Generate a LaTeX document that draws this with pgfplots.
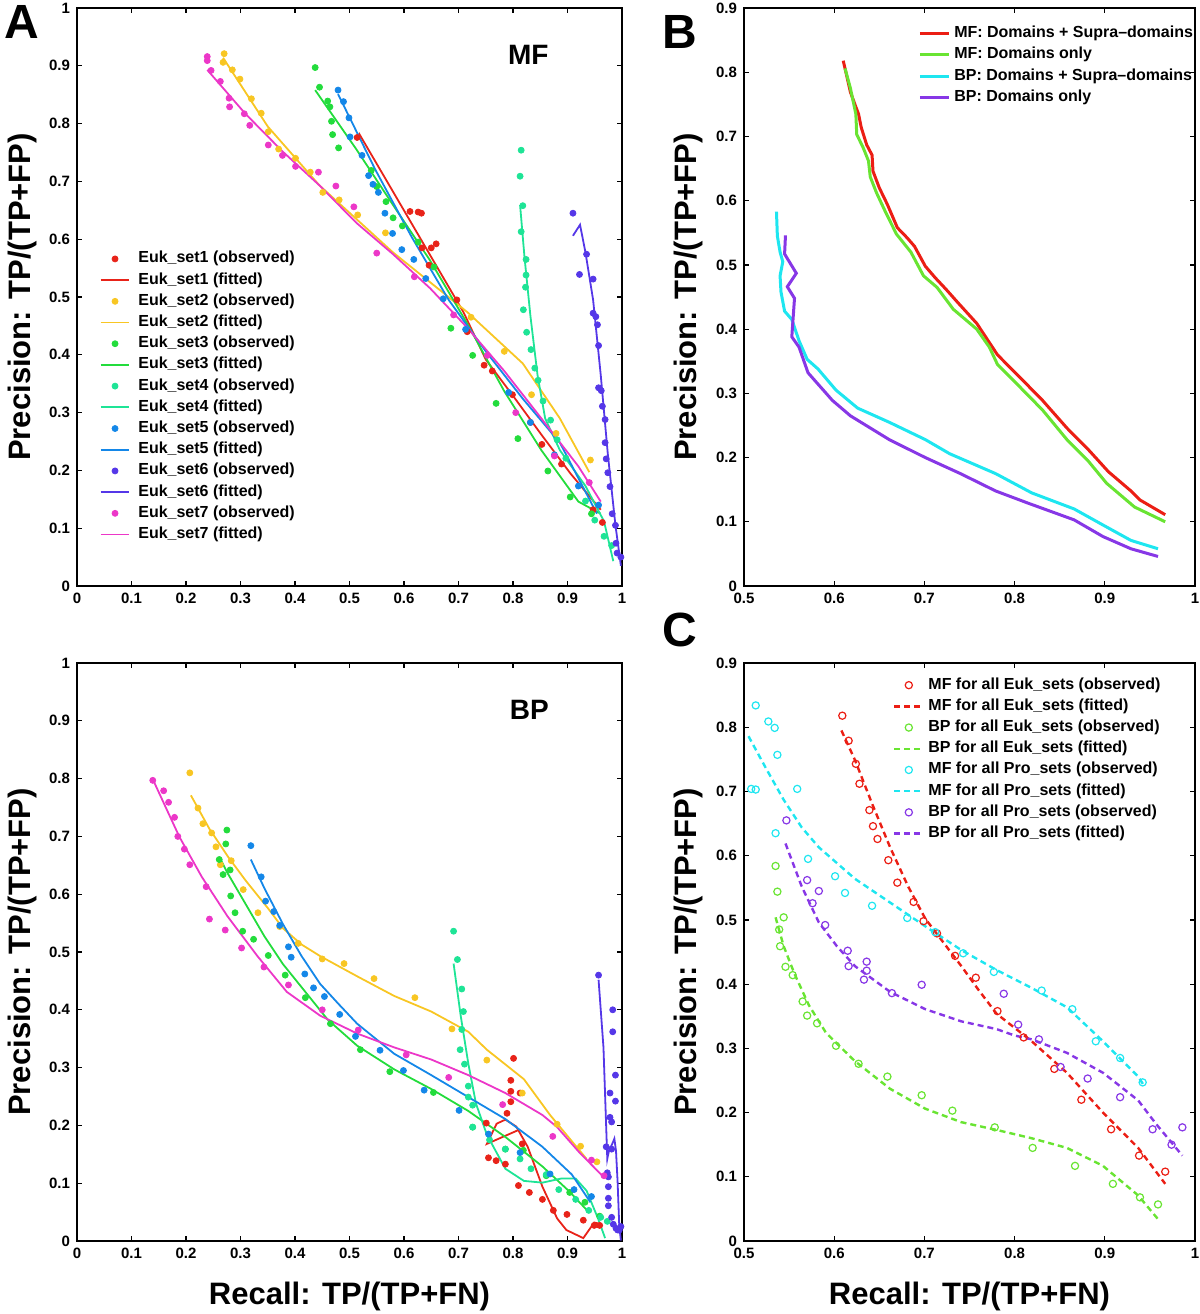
\documentclass[border=0pt]{standalone}
\usepackage{pgfplots}
\pgfplotsset{compat=1.18}
\usepackage{fontspec}
\setmainfont{Liberation Sans}
\definecolor{sOne}{RGB}{232,35,25}
\definecolor{sTwo}{RGB}{248,198,35}
\definecolor{sThree}{RGB}{35,220,60}
\definecolor{sFour}{RGB}{30,228,150}
\definecolor{sFive}{RGB}{20,135,232}
\definecolor{sSix}{RGB}{85,55,232}
\definecolor{sSeven}{RGB}{236,55,200}
\definecolor{bRed}{RGB}{235,30,20}
\definecolor{bGreen}{RGB}{105,228,50}
\definecolor{bCyan}{RGB}{30,230,240}
\definecolor{bPurple}{RGB}{135,55,230}
\pgfplotsset{
  matax/.style={
    scale only axis, axis line style={line width=0.7pt},
    tick style={line width=0.6pt,black}, major tick length=2.5pt, tick align=inside,
    ticklabel style={font=\fontsize{7.5}{9}\selectfont\bfseries},
    /pgf/number format/assume math mode=true,
    legend cell align=left,
    legend image code/.code={\draw[mark repeat=2,mark phase=2,##1] plot coordinates {(0pt,0pt) (7.2pt,0pt) (14.4pt,0pt)};},
  },
  obsA/.style={only marks, mark=*, mark size=1.5pt, color=#1},
  fitA/.style={no marks, line width=0.9pt, color=#1},
  lineB/.style={no marks, line width=1.5pt, color=#1},
  obsC/.style={only marks, mark=o, mark size=1.8pt, mark options={line width=0.6pt}, color=#1},
  fitC/.style={no marks, line width=1.2pt, dash pattern=on 3pt off 2pt, color=#1},
  legfont/.style={font=\fontsize{8}{9.6}\selectfont\bfseries},
}
\begin{document}
\begin{tikzpicture}
\useasboundingbox (0pt,0pt) rectangle (600pt,-657pt);
% ---------------- Panel A (MF)
\begin{axis}[matax, at={(38.5pt,-293pt)}, anchor=south west, width=272.5pt, height=289pt,
  xmin=0, xmax=1, ymin=0, ymax=1,
  xtick={0,0.1,0.2,0.3,0.4,0.5,0.6,0.7,0.8,0.9,1},
  ytick={0,0.1,0.2,0.3,0.4,0.5,0.6,0.7,0.8,0.9,1},
  legend style={at={(axis cs:0.041,0.3275)}, anchor=west, draw=none, fill=none, inner sep=0pt,
    legfont, row sep=2.6pt, column sep=4pt, nodes={inner sep=0pt, text height=6pt, text depth=2pt}}]
\addplot[obsA=sOne] coordinates {(0.514,0.776)(0.611,0.648)(0.626,0.647)(0.632,0.645)(0.633,0.585)(0.650,0.585)(0.659,0.592)(0.646,0.555)(0.697,0.495)(0.716,0.440)(0.747,0.382)(0.762,0.372)(0.799,0.331)(0.832,0.283)(0.853,0.245)(0.889,0.211)(0.947,0.132)(0.964,0.110)};
\addlegendentry{Euk\_set1 (observed)}
\addplot[fitA=sOne] coordinates {(0.512,0.772)(0.518,0.782)(0.709,0.474)(0.750,0.392)(0.804,0.324)(0.852,0.262)(0.906,0.194)(0.961,0.132)};
\addlegendentry{Euk\_set1 (fitted)}
\addplot[obsA=sTwo] coordinates {(0.270,0.921)(0.268,0.906)(0.285,0.893)(0.299,0.877)(0.320,0.843)(0.338,0.818)(0.351,0.786)(0.370,0.756)(0.401,0.740)(0.428,0.716)(0.451,0.681)(0.481,0.668)(0.515,0.642)(0.566,0.611)(0.723,0.465)(0.784,0.406)(0.834,0.331)(0.879,0.264)(0.942,0.218)};
\addlegendentry{Euk\_set2 (observed)}
\addplot[fitA=sTwo] coordinates {(0.268,0.914)(0.350,0.795)(0.445,0.693)(0.580,0.577)(0.716,0.474)(0.818,0.385)(0.886,0.290)(0.940,0.197)};
\addlegendentry{Euk\_set2 (fitted)}
\addplot[obsA=sThree] coordinates {(0.437,0.897)(0.445,0.863)(0.460,0.839)(0.464,0.829)(0.467,0.804)(0.469,0.781)(0.480,0.758)(0.540,0.719)(0.550,0.691)(0.567,0.665)(0.580,0.637)(0.597,0.623)(0.626,0.595)(0.655,0.552)(0.686,0.446)(0.726,0.399)(0.769,0.316)(0.809,0.255)(0.864,0.199)(0.905,0.154)(0.944,0.125)};
\addlegendentry{Euk\_set3 (observed)}
\addplot[fitA=sThree] coordinates {(0.437,0.858)(0.513,0.755)(0.580,0.659)(0.648,0.563)(0.716,0.454)(0.784,0.337)(0.852,0.235)(0.920,0.146)(0.961,0.125)};
\addlegendentry{Euk\_set3 (fitted)}
\addplot[obsA=sFour] coordinates {(0.815,0.754)(0.813,0.709)(0.818,0.658)(0.815,0.613)(0.824,0.565)(0.824,0.538)(0.823,0.517)(0.819,0.478)(0.825,0.439)(0.833,0.409)(0.840,0.377)(0.846,0.356)(0.855,0.320)(0.869,0.287)(0.881,0.253)(0.897,0.221)(0.933,0.147)(0.950,0.114)(0.967,0.086)(0.981,0.070)};
\addlegendentry{Euk\_set4 (observed)}
\addplot[fitA=sFour] coordinates {(0.813,0.659)(0.821,0.570)(0.832,0.467)(0.845,0.365)(0.859,0.290)(0.886,0.235)(0.933,0.173)(0.967,0.112)(0.984,0.043)};
\addlegendentry{Euk\_set4 (fitted)}
\addplot[obsA=sFive] coordinates {(0.479,0.858)(0.489,0.838)(0.499,0.810)(0.501,0.777)(0.523,0.745)(0.535,0.710)(0.543,0.695)(0.553,0.681)(0.565,0.645)(0.579,0.610)(0.596,0.582)(0.618,0.565)(0.640,0.532)(0.672,0.497)(0.713,0.444)(0.792,0.335)(0.832,0.283)(0.876,0.227)(0.920,0.173)(0.957,0.140)};
\addlegendentry{Euk\_set5 (observed)}
\addplot[fitA=sFive] coordinates {(0.479,0.851)(0.547,0.721)(0.614,0.604)(0.682,0.495)(0.750,0.406)(0.818,0.324)(0.886,0.248)(0.954,0.125)};
\addlegendentry{Euk\_set5 (fitted)}
\addplot[obsA=sSix] coordinates {(0.910,0.645)(0.922,0.539)(0.935,0.574)(0.947,0.531)(0.947,0.472)(0.952,0.466)(0.955,0.452)(0.957,0.416)(0.957,0.343)(0.962,0.338)(0.964,0.311)(0.969,0.288)(0.969,0.248)(0.971,0.220)(0.974,0.196)(0.978,0.172)(0.982,0.125)(0.988,0.105)(0.989,0.074)(0.991,0.057)(0.998,0.050)};
\addlegendentry{Euk\_set6 (observed)}
\addplot[fitA=sSix] coordinates {(0.910,0.606)(0.923,0.625)(0.933,0.577)(0.947,0.495)(0.961,0.365)(0.974,0.228)(0.988,0.105)(0.998,0.035)};
\addlegendentry{Euk\_set6 (fitted)}
\addplot[obsA=sSeven] coordinates {(0.239,0.916)(0.239,0.909)(0.246,0.892)(0.263,0.873)(0.279,0.844)(0.280,0.829)(0.307,0.817)(0.317,0.797)(0.351,0.763)(0.377,0.745)(0.401,0.726)(0.443,0.716)(0.475,0.692)(0.508,0.656)(0.550,0.576)(0.619,0.535)(0.691,0.469)(0.753,0.399)(0.805,0.300)(0.876,0.225)(0.940,0.179)};
\addlegendentry{Euk\_set7 (observed)}
\addplot[fitA=sSeven] coordinates {(0.239,0.893)(0.309,0.817)(0.377,0.752)(0.445,0.693)(0.513,0.628)(0.580,0.574)(0.648,0.515)(0.716,0.447)(0.784,0.372)(0.852,0.290)(0.920,0.207)(0.961,0.146)};
\addlegendentry{Euk\_set7 (fitted)}
\node[font=\fontsize{14}{16}\selectfont\bfseries] at (axis cs:0.828,0.919) {MF};
\end{axis}
% ---------------- Panel D (BP)
\begin{axis}[matax, at={(38.5pt,-620.5pt)}, anchor=south west, width=272.5pt, height=289pt,
  xmin=0, xmax=1, ymin=0, ymax=1,
  xtick={0,0.1,0.2,0.3,0.4,0.5,0.6,0.7,0.8,0.9,1},
  ytick={0,0.1,0.2,0.3,0.4,0.5,0.6,0.7,0.8,0.9,1}]
\addplot[obsA=sOne] coordinates {(0.751,0.204)(0.755,0.144)(0.769,0.139)(0.786,0.133)(0.789,0.221)(0.796,0.278)(0.796,0.259)(0.796,0.241)(0.801,0.316)(0.813,0.256)(0.810,0.096)(0.817,0.168)(0.830,0.084)(0.854,0.072)(0.874,0.053)(0.899,0.046)(0.929,0.036)(0.949,0.027)(0.959,0.027)};
\addplot[fitA=sOne] coordinates {(0.810,0.192)(0.752,0.168)(0.770,0.203)(0.786,0.210)(0.806,0.198)(0.827,0.163)(0.854,0.094)(0.881,0.039)(0.898,0.019)(0.929,0.005)(0.949,0.032)(0.963,0.029)};
\addplot[obsA=sTwo] coordinates {(0.207,0.810)(0.222,0.749)(0.231,0.722)(0.247,0.706)(0.255,0.682)(0.263,0.651)(0.283,0.658)(0.305,0.608)(0.332,0.568)(0.372,0.544)(0.406,0.515)(0.450,0.488)(0.490,0.480)(0.545,0.454)(0.620,0.421)(0.688,0.367)(0.752,0.313)(0.817,0.256)(0.881,0.202)(0.924,0.164)(0.954,0.137)};
\addplot[fitA=sTwo] coordinates {(0.209,0.771)(0.243,0.713)(0.277,0.665)(0.310,0.623)(0.351,0.575)(0.378,0.541)(0.412,0.513)(0.446,0.493)(0.514,0.458)(0.582,0.424)(0.650,0.397)(0.718,0.362)(0.752,0.331)(0.820,0.280)(0.868,0.218)(0.935,0.142)};
\addplot[obsA=sThree] coordinates {(0.275,0.711)(0.273,0.687)(0.261,0.660)(0.268,0.634)(0.281,0.642)(0.282,0.597)(0.290,0.568)(0.304,0.536)(0.324,0.522)(0.351,0.494)(0.382,0.460)(0.419,0.421)(0.465,0.376)(0.520,0.331)(0.574,0.293)(0.654,0.257)(0.726,0.197)(0.786,0.159)(0.819,0.157)(0.861,0.113)(0.904,0.084)(0.932,0.067)(0.959,0.043)};
\addplot[fitA=sThree] coordinates {(0.261,0.665)(0.276,0.637)(0.310,0.582)(0.344,0.527)(0.378,0.479)(0.419,0.431)(0.460,0.383)(0.514,0.338)(0.582,0.297)(0.650,0.263)(0.718,0.225)(0.786,0.180)(0.854,0.129)(0.902,0.087)(0.936,0.053)};
\addplot[obsA=sFour] coordinates {(0.691,0.536)(0.698,0.487)(0.706,0.436)(0.709,0.397)(0.706,0.366)(0.703,0.331)(0.711,0.306)(0.718,0.268)(0.718,0.249)(0.726,0.235)(0.726,0.197)(0.757,0.175)(0.786,0.159)(0.813,0.142)(0.833,0.125)(0.861,0.115)(0.884,0.089)(0.915,0.072)(0.939,0.053)(0.961,0.041)(0.973,0.034)};
\addplot[fitA=sFour] coordinates {(0.691,0.480)(0.704,0.390)(0.718,0.307)(0.732,0.238)(0.752,0.184)(0.786,0.125)(0.820,0.104)(0.854,0.101)(0.888,0.108)(0.915,0.108)(0.935,0.087)(0.956,0.039)(0.969,0.005)};
\addplot[obsA=sFive] coordinates {(0.319,0.684)(0.338,0.630)(0.346,0.588)(0.361,0.570)(0.372,0.546)(0.388,0.509)(0.393,0.491)(0.418,0.462)(0.434,0.438)(0.454,0.423)(0.482,0.392)(0.511,0.354)(0.556,0.330)(0.599,0.295)(0.637,0.261)(0.701,0.226)(0.755,0.185)(0.813,0.153)(0.868,0.116)(0.912,0.089)(0.944,0.077)};
\addplot[fitA=sFive] coordinates {(0.319,0.660)(0.344,0.610)(0.378,0.548)(0.412,0.493)(0.446,0.445)(0.480,0.410)(0.514,0.376)(0.582,0.324)(0.650,0.287)(0.718,0.249)(0.786,0.211)(0.854,0.163)(0.908,0.115)(0.942,0.067)};
\addplot[obsA=sSix] coordinates {(0.957,0.460)(0.983,0.400)(0.983,0.362)(0.988,0.287)(0.978,0.256)(0.988,0.242)(0.978,0.214)(0.981,0.206)(0.971,0.163)(0.981,0.159)(0.973,0.118)(0.975,0.111)(0.975,0.094)(0.975,0.074)(0.975,0.061)(0.981,0.041)(0.984,0.029)(0.989,0.022)(0.992,0.019)(0.995,0.019)(0.998,0.025)};
\addplot[fitA=sSix] coordinates {(0.957,0.452)(0.966,0.335)(0.973,0.142)(0.976,0.156)(0.983,0.170)(0.986,0.177)(0.989,0.156)(0.992,0.101)(0.995,0.025)(0.998,0.001)};
\addplot[obsA=sSeven] coordinates {(0.139,0.797)(0.159,0.779)(0.168,0.759)(0.179,0.733)(0.185,0.700)(0.197,0.678)(0.207,0.651)(0.237,0.613)(0.243,0.557)(0.272,0.538)(0.302,0.507)(0.343,0.474)(0.388,0.443)(0.450,0.400)(0.516,0.365)(0.604,0.322)(0.682,0.283)(0.781,0.236)(0.873,0.181)(0.944,0.140)(0.967,0.113)};
\addplot[fitA=sSeven] coordinates {(0.139,0.799)(0.161,0.754)(0.188,0.699)(0.229,0.630)(0.276,0.562)(0.331,0.493)(0.385,0.431)(0.446,0.390)(0.514,0.359)(0.582,0.335)(0.650,0.314)(0.718,0.287)(0.786,0.256)(0.854,0.218)(0.881,0.197)(0.922,0.153)(0.966,0.111)};
\node[font=\fontsize{14}{16}\selectfont\bfseries] at (axis cs:0.830,0.919) {BP};
\end{axis}
% ---------------- Panel B
\begin{axis}[matax, at={(372pt,-293pt)}, anchor=south west, width=225.5pt, height=289pt,
  xmin=0.5, xmax=1, ymin=0, ymax=0.9,
  xtick={0.5,0.6,0.7,0.8,0.9,1},
  ytick={0,0.1,0.2,0.3,0.4,0.5,0.6,0.7,0.8,0.9},
  legend style={at={(axis cs:0.693,0.8105)}, anchor=west, draw=none, fill=none, inner sep=0pt,
    legfont, row sep=2.6pt, column sep=2pt, nodes={inner sep=0pt, text height=6pt, text depth=2pt}}]
\addplot[lineB=bRed] coordinates {(0.610,0.818)(0.612,0.806)(0.618,0.769)(0.624,0.746)(0.627,0.735)(0.630,0.714)(0.636,0.687)(0.642,0.671)(0.643,0.646)(0.650,0.620)(0.659,0.594)(0.670,0.558)(0.681,0.542)(0.689,0.529)(0.701,0.498)(0.712,0.480)(0.724,0.462)(0.736,0.443)(0.758,0.409)(0.781,0.360)(0.803,0.329)(0.831,0.289)(0.858,0.246)(0.882,0.212)(0.904,0.178)(0.929,0.148)(0.939,0.134)(0.967,0.111)};
\addlegendentry{MF: Domains + Supra--domains}
\addplot[lineB=bGreen] coordinates {(0.612,0.806)(0.618,0.775)(0.624,0.735)(0.625,0.703)(0.632,0.683)(0.638,0.662)(0.640,0.637)(0.647,0.612)(0.657,0.582)(0.669,0.548)(0.685,0.520)(0.699,0.483)(0.714,0.465)(0.732,0.431)(0.758,0.400)(0.772,0.372)(0.781,0.345)(0.803,0.314)(0.831,0.274)(0.858,0.228)(0.882,0.194)(0.902,0.160)(0.933,0.123)(0.967,0.100)};
\addlegendentry{MF: Domains only}
\addplot[lineB=bCyan] coordinates {(0.536,0.583)(0.537,0.545)(0.540,0.520)(0.543,0.505)(0.540,0.483)(0.541,0.458)(0.545,0.428)(0.553,0.415)(0.561,0.382)(0.570,0.353)(0.582,0.338)(0.602,0.305)(0.626,0.277)(0.661,0.255)(0.701,0.228)(0.728,0.206)(0.779,0.175)(0.819,0.145)(0.866,0.120)(0.898,0.095)(0.929,0.071)(0.959,0.058)};
\addlegendentry{BP: Domains + Supra--domains}
\addplot[lineB=bPurple] coordinates {(0.546,0.546)(0.545,0.517)(0.558,0.487)(0.548,0.466)(0.556,0.448)(0.553,0.388)(0.561,0.372)(0.571,0.332)(0.598,0.289)(0.618,0.265)(0.661,0.228)(0.701,0.200)(0.740,0.175)(0.779,0.148)(0.815,0.129)(0.866,0.103)(0.898,0.077)(0.929,0.058)(0.959,0.046)};
\addlegendentry{BP: Domains only}
\end{axis}
% ---------------- Panel C
\begin{axis}[matax, at={(372pt,-620.5pt)}, anchor=south west, width=225.5pt, height=289pt,
  xmin=0.5, xmax=1, ymin=0, ymax=0.9,
  xtick={0.5,0.6,0.7,0.8,0.9,1},
  ytick={0,0.1,0.2,0.3,0.4,0.5,0.6,0.7,0.8,0.9},
  legend style={at={(axis cs:0.665,0.750)}, anchor=west, draw=none, fill=none, inner sep=0pt,
    legfont, row sep=2.6pt, column sep=2pt, nodes={inner sep=0pt, text height=6pt, text depth=2pt}}]
\addplot[obsC=bRed] coordinates {(0.609,0.818)(0.616,0.779)(0.624,0.743)(0.628,0.712)(0.639,0.671)(0.643,0.646)(0.648,0.626)(0.660,0.593)(0.670,0.558)(0.688,0.528)(0.699,0.498)(0.714,0.479)(0.734,0.444)(0.757,0.410)(0.781,0.358)(0.810,0.317)(0.844,0.268)(0.874,0.220)(0.907,0.174)(0.938,0.133)(0.967,0.108)};
\addlegendentry{MF for all Euk\_sets (observed)}
\addplot[fitC=bRed] coordinates {(0.608,0.795)(0.623,0.749)(0.642,0.681)(0.662,0.613)(0.682,0.552)(0.701,0.502)(0.721,0.465)(0.741,0.428)(0.760,0.391)(0.780,0.354)(0.819,0.311)(0.858,0.262)(0.898,0.200)(0.937,0.145)(0.967,0.089)};
\addlegendentry{MF for all Euk\_sets (fitted)}
\addplot[obsC=bGreen] coordinates {(0.535,0.584)(0.537,0.544)(0.544,0.504)(0.539,0.485)(0.540,0.459)(0.546,0.427)(0.554,0.414)(0.565,0.373)(0.570,0.351)(0.581,0.339)(0.602,0.304)(0.627,0.276)(0.659,0.256)(0.697,0.227)(0.731,0.203)(0.778,0.177)(0.820,0.145)(0.867,0.117)(0.909,0.089)(0.939,0.068)(0.959,0.057)};
\addlegendentry{BP for all Euk\_sets (observed)}
\addplot[fitC=bGreen] coordinates {(0.535,0.504)(0.544,0.459)(0.556,0.416)(0.572,0.367)(0.591,0.324)(0.623,0.280)(0.662,0.237)(0.701,0.206)(0.741,0.185)(0.780,0.173)(0.819,0.160)(0.858,0.145)(0.898,0.117)(0.937,0.071)(0.959,0.034)};
\addlegendentry{BP for all Euk\_sets (fitted)}
\addplot[obsC=bCyan] coordinates {(0.513,0.834)(0.527,0.809)(0.534,0.799)(0.537,0.757)(0.508,0.704)(0.513,0.703)(0.559,0.704)(0.535,0.635)(0.571,0.595)(0.601,0.568)(0.612,0.542)(0.642,0.522)(0.681,0.503)(0.712,0.481)(0.743,0.448)(0.777,0.419)(0.830,0.390)(0.864,0.361)(0.890,0.311)(0.917,0.285)(0.942,0.247)};
\addlegendentry{MF for all Pro\_sets (observed)}
\addplot[fitC=bCyan] coordinates {(0.505,0.786)(0.524,0.737)(0.544,0.687)(0.564,0.644)(0.583,0.613)(0.623,0.564)(0.662,0.527)(0.701,0.490)(0.741,0.453)(0.780,0.422)(0.819,0.394)(0.858,0.364)(0.898,0.311)(0.937,0.256)(0.943,0.243)};
\addlegendentry{MF for all Pro\_sets (fitted)}
\addplot[obsC=bPurple] coordinates {(0.547,0.655)(0.570,0.562)(0.576,0.526)(0.583,0.545)(0.590,0.492)(0.615,0.452)(0.616,0.428)(0.636,0.435)(0.633,0.407)(0.636,0.421)(0.664,0.386)(0.697,0.399)(0.788,0.385)(0.804,0.337)(0.827,0.314)(0.851,0.271)(0.881,0.253)(0.917,0.224)(0.953,0.174)(0.974,0.150)(0.986,0.177)};
\addlegendentry{BP for all Pro\_sets (observed)}
\addplot[fitC=bPurple] coordinates {(0.546,0.619)(0.564,0.552)(0.583,0.496)(0.603,0.459)(0.623,0.428)(0.662,0.388)(0.701,0.361)(0.741,0.342)(0.780,0.330)(0.800,0.320)(0.819,0.314)(0.858,0.293)(0.898,0.262)(0.937,0.219)(0.957,0.182)(0.986,0.133)};
\addlegendentry{BP for all Pro\_sets (fitted)}
\end{axis}
% ---------------- labels
\node[rotate=90, font=\fontsize{15.5}{18}\selectfont\bfseries] at (11pt,-148.5pt) {Precision: TP/(TP+FP)};
\node[rotate=90, font=\fontsize{15.5}{18}\selectfont\bfseries] at (11pt,-476pt) {Precision: TP/(TP+FP)};
\node[rotate=90, font=\fontsize{15.5}{18}\selectfont\bfseries] at (344pt,-148.5pt) {Precision: TP/(TP+FP)};
\node[rotate=90, font=\fontsize{15.5}{18}\selectfont\bfseries] at (344pt,-476pt) {Precision: TP/(TP+FP)};
\node[font=\fontsize{15.5}{18}\selectfont\bfseries] at (174.75pt,-648pt) {Recall: TP/(TP+FN)};
\node[font=\fontsize{15.5}{18}\selectfont\bfseries] at (484.75pt,-648pt) {Recall: TP/(TP+FN)};
\node[font=\fontsize{24}{28}\selectfont\bfseries] at (11pt,-11pt) {A};
\node[font=\fontsize{24}{28}\selectfont\bfseries] at (340pt,-16pt) {B};
\node[font=\fontsize{24}{28}\selectfont\bfseries] at (340pt,-315pt) {C};
\end{tikzpicture}
\end{document}
